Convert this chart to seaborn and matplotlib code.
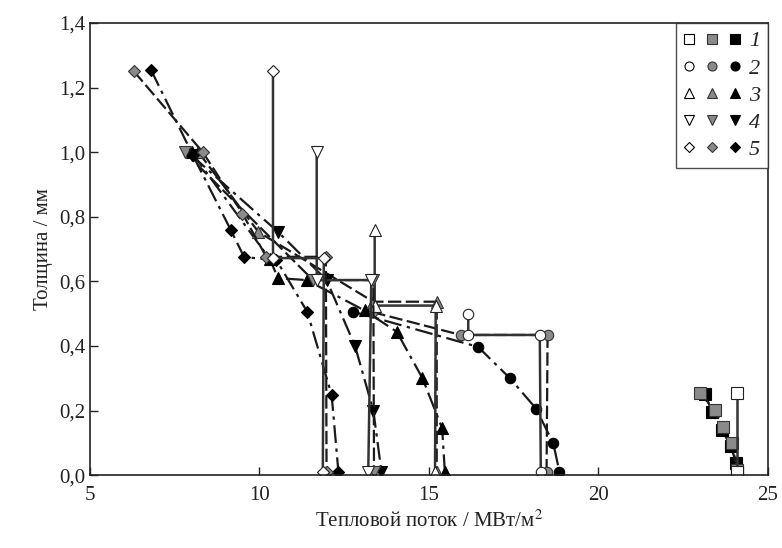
import numpy as np
import pandas as pd
import matplotlib
matplotlib.use('Agg')
import matplotlib.pyplot as plt
import seaborn as sns
from matplotlib.legend_handler import HandlerTuple
from matplotlib.ticker import FuncFormatter

sns.set_theme(style='white')
plt.rcParams['font.family'] = ['Liberation Serif', 'DejaVu Serif']
plt.rcParams['mathtext.fontset'] = 'stix'

# --- data (heat flux, MW/m2 ; thickness, mm) ---
# case 1 : squares
open1_x = [24.08, 24.08]
open1_y = [0.254, 0.01]
gray1_x = [23.0, 23.44, 23.68, 23.93, 24.1]
gray1_y = [0.253, 0.201, 0.15, 0.098, 0.015]
black1_x = [23.15, 23.35, 23.65, 23.9, 24.07, 24.1]
black1_y = [0.25, 0.196, 0.14, 0.09, 0.036, 0.01]

# case 2 : circles
open2_x = [16.16, 16.16, 18.27, 18.3]
open2_y = [0.50, 0.434, 0.434, 0.01]
gray2_x = [13.33, 15.94, 18.5, 18.47]
gray2_y = [0.505, 0.434, 0.434, 0.01]
black2_x = [12.77, 16.45, 17.39, 18.16, 18.67, 18.85]
black2_y = [0.506, 0.397, 0.30, 0.206, 0.098, 0.01]

# case 3 : up triangles
open3_x = [13.4, 13.4, 15.2, 15.18]
open3_y = [0.76, 0.525, 0.525, 0.01]
gray3_x = [8.2, 9.97, 13.36, 15.23, 15.23]
gray3_y = [1.0, 0.753, 0.537, 0.537, 0.01]
black3_x = [8.0, 10.3, 10.55, 11.39, 13.1, 14.05, 14.81, 15.39, 15.47]
black3_y = [1.0, 0.67, 0.61, 0.604, 0.51, 0.444, 0.30, 0.145, 0.01]

# case 4 : down triangles
open4_x = [11.69, 11.69, 13.3, 13.21]
open4_y = [1.0, 0.604, 0.604, 0.01]
gray4_x = [7.8, 11.58, 13.36, 13.38]
gray4_y = [1.0, 0.604, 0.604, 0.01]
black4_x = [8.0, 10.55, 11.98, 12.82, 13.36, 13.6]
black4_y = [0.99, 0.753, 0.604, 0.40, 0.20, 0.01]

# case 5 : diamonds
open5_x = [10.4, 10.4, 11.9, 11.87]
open5_y = [1.25, 0.672, 0.672, 0.01]
gray5_x = [6.3, 8.33, 9.5, 10.2, 11.96, 11.98]
gray5_y = [1.25, 1.0, 0.81, 0.676, 0.676, 0.01]
black5_x = [6.8, 8.04, 9.15, 9.55, 10.5, 11.41, 12.13, 12.33]
black5_y = [1.255, 0.99, 0.76, 0.675, 0.666, 0.506, 0.248, 0.01]

case_labels = ['1', '2', '3', '4', '5']
case_markers = ['s', 'o', '^', 'v', 'D']
case_sizes = [8, 7.5, 8.5, 8.5, 6.5]

opens = [(open1_x, open1_y), (open2_x, open2_y), (open3_x, open3_y), (open4_x, open4_y), (open5_x, open5_y)]
grays = [(gray1_x, gray1_y), (gray2_x, gray2_y), (gray3_x, gray3_y), (gray4_x, gray4_y), (gray5_x, gray5_y)]
blacks = [(black1_x, black1_y), (black2_x, black2_y), (black3_x, black3_y), (black4_x, black4_y), (black5_x, black5_y)]

fig = plt.figure(figsize=(7.82, 5.48), dpi=100)
ax = fig.add_axes([0.115, 0.133, 0.867, 0.825])

line_col = '#1a1a1a'
gray_col = '#8a8a8a'
dashdot = (0, (8, 2.5, 1.5, 2.5))

handles = []
for i in range(5):
    m = case_markers[i]
    ms = case_sizes[i]
    # black markers, dash-dot line
    bx, by = blacks[i]
    sns.lineplot(x=bx, y=by, sort=False, estimator=None, ax=ax, color=line_col,
                 linestyle=dashdot, lw=1.6, marker=m, markersize=ms,
                 markerfacecolor='black', markeredgecolor='black', markeredgewidth=0.8)
    # gray markers, dashed line
    gx, gy = grays[i]
    sns.lineplot(x=gx, y=gy, sort=False, estimator=None, ax=ax, color=line_col,
                 linestyle=(0, (6, 2)), lw=1.6, marker=m, markersize=ms,
                 markerfacecolor=gray_col, markeredgecolor='#333333', markeredgewidth=0.8)
    # open markers, solid line
    ox, oy = opens[i]
    sns.lineplot(x=ox, y=oy, sort=False, estimator=None, ax=ax, color='#333333',
                 linestyle='-', lw=1.8, marker=m, markersize=ms,
                 markerfacecolor='white', markeredgecolor='#222222', markeredgewidth=0.8)

    lm = ms - 1
    h_o = plt.Line2D([], [], ls='none', marker=m, markersize=lm, mfc='white', mec='black', mew=0.8)
    h_g = plt.Line2D([], [], ls='none', marker=m, markersize=lm, mfc=gray_col, mec='#333333', mew=0.8)
    h_b = plt.Line2D([], [], ls='none', marker=m, markersize=lm, mfc='black', mec='black', mew=0.8)
    handles.append((h_o, h_g, h_b))

ax.set_xlim(5, 25)
ax.set_ylim(0, 1.4)
ax.set_xticks([5, 10, 15, 20, 25])
ax.set_yticks(np.arange(0, 1.41, 0.2))
ax.yaxis.set_major_formatter(FuncFormatter(lambda v, p: f'{v:.1f}'.replace('.', ',')))
ax.tick_params(axis='both', direction='in', length=6, width=1, labelsize=15, colors='#222222',
               bottom=True, left=True, top=False, right=False)
ax.tick_params(axis='x', pad=8)
for s in ax.spines.values():
    s.set_color('#222222')
    s.set_linewidth(1.2)

ax.set_xlabel('Тепловой поток / МВт/м$^2$', fontsize=15, color='#222222')
ax.set_ylabel('Толщина / мм', fontsize=15, color='#222222')

leg = ax.legend(handles, case_labels, handler_map={tuple: HandlerTuple(ndivide=None, pad=0.5)},
                loc='upper right', borderaxespad=0, frameon=True, fancybox=False,
                edgecolor='#222222', handlelength=2.6, handletextpad=0.35, labelspacing=0.3,
                borderpad=0.35,
                prop={'family': 'Liberation Serif', 'style': 'italic', 'size': 16})
leg.get_frame().set_linewidth(1.0)

fig.savefig('out.png', dpi=100)
